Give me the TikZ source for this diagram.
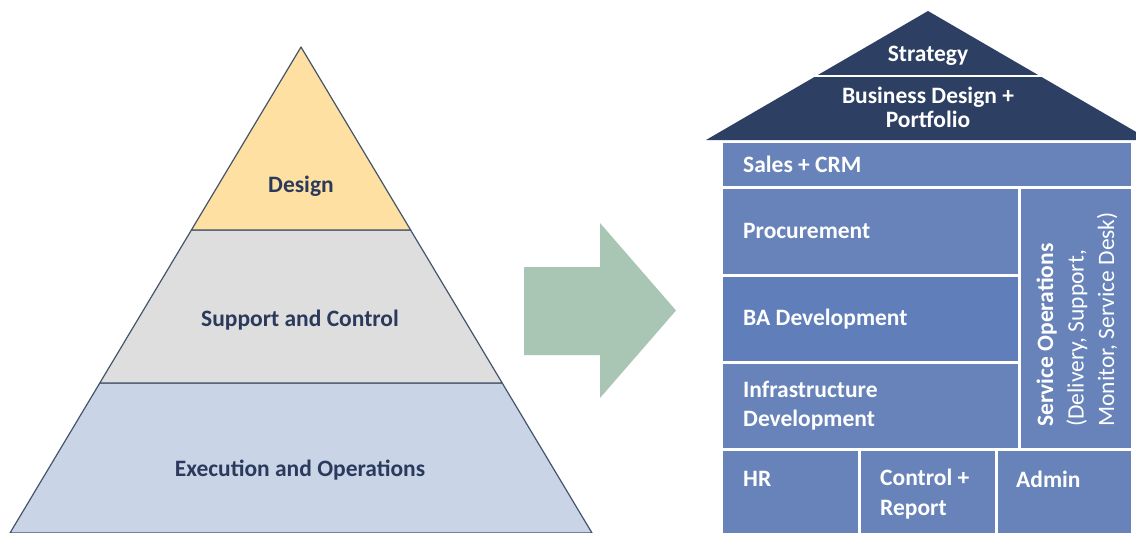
\documentclass[tikz,border=0pt]{standalone}
\usepackage{fontspec}
\setmainfont{Carlito}
\usetikzlibrary{positioning}
\definecolor{pyrline}{HTML}{44546A}
\definecolor{pyrtext}{HTML}{2B3A5C}
\definecolor{designfill}{HTML}{FEE0A2}
\definecolor{supportfill}{HTML}{DEDEDE}
\definecolor{execfill}{HTML}{C9D5E7}
\definecolor{arrowfill}{HTML}{A9C5B3}
\definecolor{roof}{HTML}{2D3F62}
\definecolor{room}{HTML}{6783BA}
\definecolor{roomdark}{HTML}{5F7EBA}
\tikzstyle{layer}=[draw=pyrline, line width=1.2pt, line join=round]
\tikzstyle{pyrlabel}=[inner sep=0pt, text=pyrtext, font=\bfseries\fontsize{23.5}{28}\selectfont]
\tikzstyle{roomlabel}=[anchor=west, inner sep=0pt, align=left, text=white, font=\bfseries\fontsize{23.5}{29.5}\selectfont]
\tikzstyle{rooflabel}=[inner sep=0pt, align=center, text=white, font=\bfseries\fontsize{23.5}{24}\selectfont]

\begin{document}
\begin{tikzpicture}[x=1pt, y=-1pt]
    \useasboundingbox (0,0) rectangle (1136,533);
    \clip (0,0) rectangle (1136,533);

    % pyramid
    \coordinate (apex) at (301, 47);
    \coordinate (dl) at (191.4, 230);
    \coordinate (dr) at (410.6, 230);
    \coordinate (sl) at (99.8, 383);
    \coordinate (sr) at (502.2, 383);
    \coordinate (bl) at (10, 533);
    \coordinate (br) at (592, 533);
    \draw [style=layer, fill=execfill] (sl) -- (sr) -- (br) -- (bl) -- cycle;
    \draw [style=layer, fill=supportfill] (dl) -- (dr) -- (sr) -- (sl) -- cycle;
    \draw [style=layer, fill=designfill] (apex) -- (dr) -- (dl) -- cycle;
    \node [style=pyrlabel] (design) at (301, 186) {Design};
    \node [style=pyrlabel] (support) at (300, 320) {Support and Control};
    \node [style=pyrlabel] (exec) at (300, 470) {Execution and Operations};

    % arrow
    \fill [arrowfill] (524,267) -- (600,267) -- (600,223) -- (676,310.5)
        -- (600,398) -- (600,355) -- (524,355) -- cycle;

    % house
    \fill [roof] (706,140) -- (928,11) -- (1150,140) -- cycle;
    \draw [white, line width=2pt] (810,76) -- (1046,76);
    \node [style=rooflabel] (strategy) at (928, 56) {Strategy};
    \node [style=rooflabel] (business) at (928, 107) {Business Design +\\Portfolio};

    \fill [room] (723,143) rectangle (1131,186);
    \fill [room] (723,189) rectangle (1018,274);
    \fill [roomdark] (723,277) rectangle (1018,361);
    \fill [room] (723,364) rectangle (1018,448);
    \fill [room] (1021,189) rectangle (1131,448);
    \fill [room] (723,451) rectangle (858,540);
    \fill [room] (861,451) rectangle (995,540);
    \fill [room] (998,451) rectangle (1131,540);

    \node [style=roomlabel] (sales) at (743, 164) {Sales + CRM};
    \node [style=roomlabel] (procurement) at (743, 231) {Procurement};
    \node [style=roomlabel] (ba) at (743, 319) {BA Development};
    \node [style=roomlabel] (infra) at (743, 405.5) {Infrastructure\\Development};
    \node [style=roomlabel] (hr) at (743, 479) {HR};
    \node [style=roomlabel] (control) at (880, 494) {Control +\\Report};
    \node [style=roomlabel] (admin) at (1016, 479) {Admin};
    \node [style=roomlabel, rotate=90, font=\fontsize{23.5}{30.5}\selectfont] (service) at (1077, 427)
        {\textbf{Service Operations}\\(Delivery, Support,\\Monitor, Service Desk)};
\end{tikzpicture}
\end{document}
